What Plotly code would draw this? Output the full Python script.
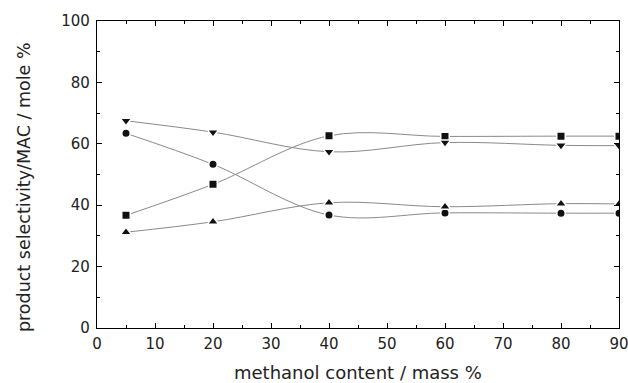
import plotly.graph_objects as go

methanol = [5, 20, 40, 60, 80, 90]
sel_square = [36.7, 46.8, 62.6, 62.4, 62.5, 62.5]
sel_circle = [63.4, 53.3, 36.8, 37.5, 37.4, 37.4]
sel_down = [67.5, 63.8, 57.4, 60.4, 59.5, 59.4]
sel_up = [31.2, 34.6, 40.8, 39.5, 40.5, 40.4]

series = [
    (sel_square, "square", 8.5),
    (sel_circle, "circle", 8.5),
    (sel_down, "triangle-down", 10),
    (sel_up, "triangle-up", 10),
]

fig = go.Figure()
for ys, sym, sz in series:
    fig.add_trace(go.Scatter(
        x=methanol, y=ys, mode="lines+markers",
        line=dict(color="#8a8a8a", width=1, shape="spline", smoothing=1.0),
        marker=dict(symbol=sym, size=sz, color="#111111",
                    line=dict(color="white", width=1.5)),
        showlegend=False,
    ))

font = "DejaVu Sans, Arial, sans-serif"
axis_common = dict(
    showline=True, linecolor="black", linewidth=1.3, mirror="ticks",
    ticks="inside", ticklen=5, tickwidth=1.2, tickcolor="black",
    showgrid=False, zeroline=False, ticklabeloverflow="allow", automargin=False,
    tickfont=dict(family=font, size=15, color="#222"),
)
fig.update_xaxes(range=[0, 90], dtick=10, tick0=0, ticklabelstandoff=2,
                 minor=dict(dtick=5, ticks="inside", ticklen=3, tickcolor="black", tickwidth=1),
                 **axis_common)
fig.update_yaxes(range=[0, 100], dtick=20, tick0=0, ticklabelstandoff=3,
                 minor=dict(dtick=10, ticks="inside", ticklen=3, tickcolor="black", tickwidth=1),
                 **axis_common)

fig.add_annotation(text="methanol content / mass %", xref="paper", yref="paper",
                   x=0.5, xanchor="center", y=0, yanchor="middle", yshift=-44, showarrow=False,
                   font=dict(family=font, size=18, color="#222"))
fig.add_annotation(text="product selectivity/MAC / mole %", xref="paper", yref="paper",
                   x=0, xanchor="center", xshift=-73, y=0.459, yanchor="middle", textangle=-90,
                   showarrow=False, font=dict(family=font, size=17.5, color="#222"))

fig.update_layout(
    width=628, height=383,
    margin=dict(l=97, r=9, t=21, b=55, autoexpand=False),
    plot_bgcolor="white", paper_bgcolor="white",
)
fig.write_html("out.html", config={"displayModeBar": False},
               post_script="document.body.style.margin='0';")
